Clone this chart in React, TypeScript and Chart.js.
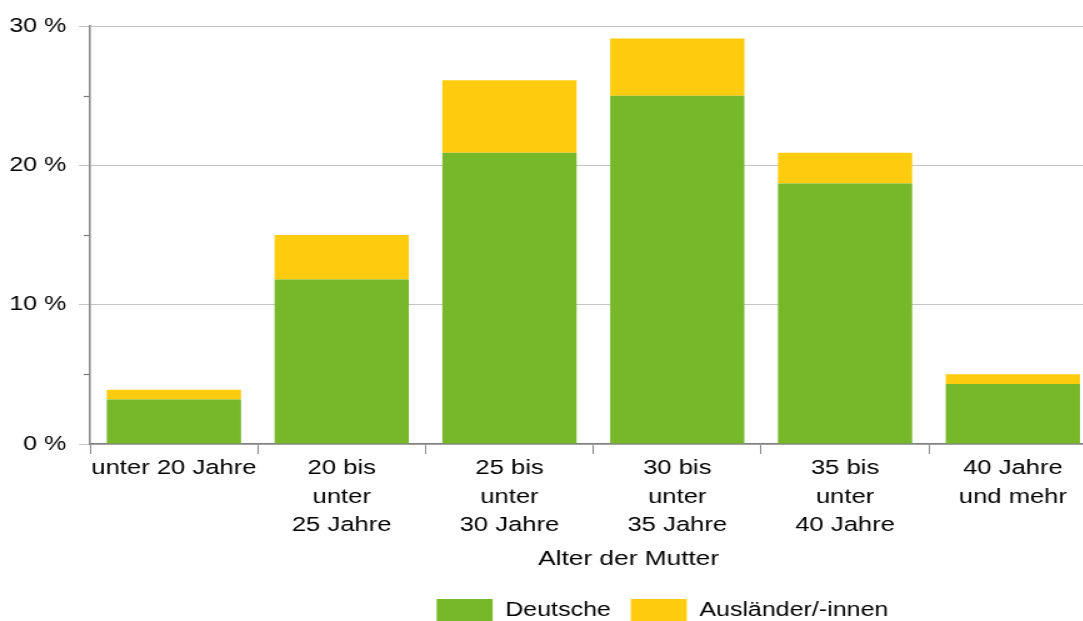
import { useEffect, useRef } from 'react';
import { Chart, registerables } from 'chart.js';

Chart.register(...registerables);

const CATEGORIES = [
  ['unter 20 Jahre'],
  ['20 bis', 'unter', '25 Jahre'],
  ['25 bis', 'unter', '30 Jahre'],
  ['30 bis', 'unter', '35 Jahre'],
  ['35 bis', 'unter', '40 Jahre'],
  ['40 Jahre', 'und mehr'],
];
const DEUTSCHE = [3.2, 11.8, 20.9, 25.0, 18.7, 4.3];
const AUSLAENDER = [0.7, 3.2, 5.2, 4.1, 2.2, 0.7];
const SERIES_LABELS = ['Deutsche', 'Ausländer/-innen'];
const SERIES_COLORS = ['#77b82a', '#fecc0e'];
const Y_MIN = 0;
const Y_MAX = 30;
const Y_STEP = 10;
const MINOR_TICKS = [5, 15, 25];
const AXIS_TITLE = 'Alter der Mutter';

const FONT = '"Liberation Sans", Arial, Helvetica, sans-serif';
const STRETCH = 1.25;
const CANVAS_W = 1060;
const CANVAS_H = 631;

const extrasPlugin = {
  id: 'extras',
  afterDraw(chart: any) {
    const ctx = chart.ctx;
    const y = chart.scales.y;
    const x = chart.scales.x;
    ctx.save();
    ctx.strokeStyle = '#7a7a7a';
    ctx.lineWidth = 1.2;
    for (const v of MINOR_TICKS) {
      const py = Math.round(y.getPixelForValue(v)) + 0.5;
      ctx.beginPath();
      ctx.moveTo(y.right - 5, py);
      ctx.lineTo(y.right, py);
      ctx.stroke();
    }
    ctx.fillStyle = '#000';
    ctx.font = '21px ' + FONT;
    ctx.textAlign = 'center';
    ctx.textBaseline = 'middle';
    ctx.fillText(AXIS_TITLE, x.left + (x.right - x.left) * 0.535, x.bottom - 24);
    ctx.restore();
  },
};

export default function App() {
  const ref = useRef<HTMLCanvasElement>(null);
  useEffect(() => {
    Chart.defaults.font.family = FONT;
    const chart = new Chart(ref.current as HTMLCanvasElement, {
      type: 'bar',
      data: {
        labels: CATEGORIES,
        datasets: [
          {
            label: SERIES_LABELS[0],
            data: DEUTSCHE,
            backgroundColor: SERIES_COLORS[0],
            borderWidth: 0,
            categoryPercentage: 0.8,
            barPercentage: 1.0,
          },
          {
            label: SERIES_LABELS[1],
            data: AUSLAENDER,
            backgroundColor: SERIES_COLORS[1],
            borderWidth: 0,
            categoryPercentage: 0.8,
            barPercentage: 1.0,
          },
        ],
      },
      options: {
        responsive: false,
        animation: false,
        devicePixelRatio: 1,
        layout: { padding: { top: 26, left: 0, right: 0, bottom: 0 } },
        plugins: {
          tooltip: { enabled: false },
          title: { display: false },
          legend: {
            position: 'bottom',
            align: 'center',
            labels: {
              boxWidth: 44.8,
              boxHeight: 22,
              padding: 16,
              color: '#000',
              font: { size: 20, family: FONT },
            },
          },
        },
        scales: {
          x: {
            stacked: true,
            grid: {
              display: true,
              drawOnChartArea: false,
              drawTicks: true,
              tickLength: 10,
              color: '#8a8a8a',
              offset: true,
            },
            border: { display: true, color: '#808080', width: 1.5 },
            ticks: {
              color: '#000',
              padding: 0,
              maxRotation: 0,
              autoSkip: false,
              font: { size: 20.5, family: FONT, lineHeight: 1.4 },
            },
            afterFit: (s: any) => {
              s.height = 139;
            },
          },
          y: {
            stacked: true,
            min: Y_MIN,
            max: Y_MAX,
            grid: {
              color: '#c4c4c4',
              lineWidth: 1,
              drawTicks: true,
              tickLength: 9,
            },
            border: { display: true, color: '#8c8c8c', width: 1.6 },
            ticks: {
              stepSize: Y_STEP,
              padding: 10,
              color: '#000',
              font: { size: 20, family: FONT },
              callback: (v: any) => v + ' %',
            },
            afterFit: (s: any) => {
              s.width = 72;
            },
          },
          r: {
            type: 'linear',
            position: 'right',
            display: true,
            grid: { display: false, drawTicks: false },
            border: { display: false },
            ticks: { display: false },
            afterFit: (s: any) => {
              s.width = 182.6;
            },
          },
        },
      },
      plugins: [extrasPlugin],
    } as any);
    return () => chart.destroy();
  }, []);

  return (
    <div
      style={{
        position: 'fixed',
        left: 0,
        top: 0,
        width: 1083,
        height: 621,
        overflow: 'hidden',
        background: '#fff',
      }}
    >
      <canvas
        ref={ref}
        width={CANVAS_W}
        height={CANVAS_H}
        style={{ display: 'block', transform: `scaleX(${STRETCH})`, transformOrigin: '0 0' }}
      />
    </div>
  );
}
